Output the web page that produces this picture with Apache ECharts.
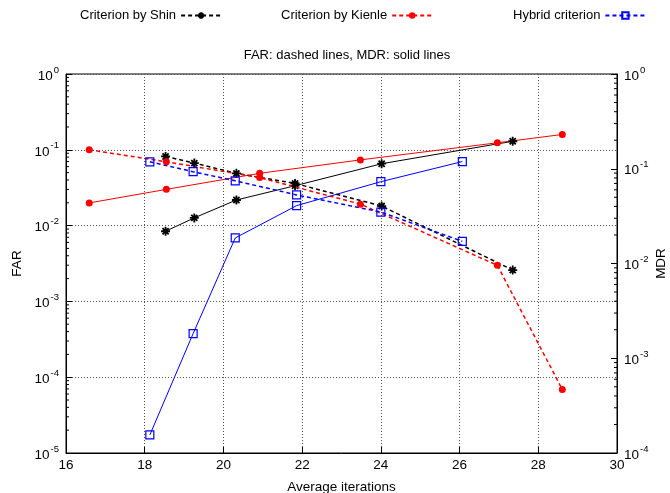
<!DOCTYPE html>
<html>
<head>
<meta charset="utf-8">
<script src="https://cdn.jsdelivr.net/npm/echarts@6/dist/echarts.min.js"></script>
<style>
html,body{margin:0;padding:0;background:#fff;}
#chart{width:670px;height:493px;}
</style>
</head>
<body>
<div id="chart"></div>
<script>
// ---- data ----
const xTicks = [16, 18, 20, 22, 24, 26, 28, 30];
const farExponents = [-5, -4, -3, -2, -1, 0];
const mdrExponents = [-4, -3, -2, -1, 0];

const shinX   = [18.53, 19.26, 20.33, 21.82, 24.02, 27.35];
const shinFAR = [0.0817, 0.0668, 0.0489, 0.0360, 0.0181, 0.00259];
const shinMDR = [0.0219, 0.0303, 0.0468, 0.0662, 0.113, 0.195];

const kienleX   = [16.59, 18.55, 20.92, 23.48, 26.96, 28.61];
const kienleFAR = [0.100, 0.0695, 0.0430, 0.0192, 0.00299, 0.000069];
const kienleMDR = [0.0436, 0.0606, 0.0895, 0.124, 0.188, 0.230];

const hybridX   = [18.13, 19.23, 20.30, 21.86, 24.00, 26.07];
const hybridFAR = [0.0695, 0.0514, 0.0390, 0.0254, 0.0151, 0.0062];
const hybridMDR = [0.000155, 0.00182, 0.0186, 0.0408, 0.073, 0.119];

const names = ['Criterion by Shin', 'Criterion by Kienle', 'Hybrid criterion'];
const subtitle = 'FAR: dashed lines, MDR: solid lines';

// ---- helpers ----
const zip = (xs, ys) => xs.map((x, i) => [x, ys[i]]);
const FONT = '"Liberation Sans", Arial, Helvetica, sans-serif';
const supFmt = v => '{b|10}{s|' + Math.round(Math.log10(v)) + '}';
const richSup = {
  b: {fontSize: 13.5, fontFamily: FONT, color: '#000', lineHeight: 18, verticalAlign: 'bottom'},
  s: {fontSize: 9.5, fontFamily: FONT, color: '#000', lineHeight: 18, verticalAlign: 'top', padding: [0, 0, 0, 1]}
};
const xMin = xTicks[0], xMax = xTicks[xTicks.length - 1];

function minorValues(exps) {
  const out = [];
  for (let i = 0; i < exps.length - 1; i++) {
    for (let m = 2; m <= 9; m++) out.push(m * Math.pow(10, exps[i]));
  }
  return out;
}
function tickSeries(yIdx, xAt, dir, len) {
  return {
    type: 'custom', yAxisIndex: yIdx, silent: true, z: 5,
    data: minorValues(yIdx === 0 ? farExponents : mdrExponents).map(v => [xAt, v]),
    renderItem: (params, api) => {
      const p = api.coord([api.value(0), api.value(1)]);
      return {type: 'line', shape: {x1: p[0], y1: p[1], x2: p[0] + dir * len, y2: p[1]},
              style: {stroke: '#000', lineWidth: 1}};
    }
  };
}

const starPath = 'path://M5,0L5,10M0,5L10,5M1.6,1.6L8.4,8.4M8.4,1.6L1.6,8.4';
const dashed = [4, 3];

const styles = {
  shin:   {color: '#000', symbol: starPath, size: 9, item: {color: '#000', borderColor: '#000', borderWidth: 1.8}},
  kienle: {color: '#ff0000', symbol: 'circle', size: 7, item: {color: '#ff0000'}},
  hybrid: {color: '#0000ff', symbol: 'rect', size: 8, item: {color: 'rgba(255,255,255,0)', borderColor: '#0000ff', borderWidth: 1.2}}
};

function lineSeries(name, st, data, yIdx, isDashed) {
  return {
    name: name, type: 'line', yAxisIndex: yIdx, data: data,
    symbol: st.symbol, symbolSize: st.size, showAllSymbol: true,
    lineStyle: {color: st.color, width: isDashed ? 1.5 : 1, type: isDashed ? dashed : 'solid'},
    itemStyle: st.item, z: isDashed ? 3 : 2
  };
}

const legendBase = {
  top: 9, padding: 0, align: 'right', itemWidth: 40, itemHeight: 8, itemGap: 6,
  textStyle: {fontSize: 13, fontFamily: FONT, color: '#000'},
  selectedMode: false
};

const option = {
  animation: false,
  backgroundColor: '#fff',
  title: {
    text: subtitle, left: 342, top: 44, textAlign: 'center',
    textStyle: {fontSize: 13, fontWeight: 'normal', fontFamily: FONT, color: '#000'}
  },
  legend: [
    Object.assign({}, legendBase, {data: [names[0]], left: 80}),
    Object.assign({}, legendBase, {data: [names[1]], left: 281}),
    Object.assign({}, legendBase, {data: [names[2]], left: 513})
  ],
  grid: {left: 66, right: 53, top: 74, bottom: 40, containLabel: false, outerBoundsMode: 'none',
         show: true, borderColor: '#000', borderWidth: 1, backgroundColor: 'transparent'},
  xAxis: {
    type: 'value', min: xMin, max: xMax, interval: 2,
    name: 'Average iterations', nameLocation: 'middle', nameGap: 27,
    nameTextStyle: {fontSize: 13.5, fontFamily: FONT, color: '#000'},
    axisLine: {show: true, lineStyle: {color: '#000', width: 1}},
    axisTick: {show: true, inside: true, length: 6, lineStyle: {color: '#000'}},
    axisLabel: {fontSize: 13.5, fontFamily: FONT, color: '#000', margin: 5},
    splitLine: {show: true, lineStyle: {color: '#555', type: [1, 2], width: 1}}
  },
  yAxis: [
    {
      type: 'log', logBase: 10, min: Math.pow(10, farExponents[0]), max: Math.pow(10, farExponents[farExponents.length - 1]),
      position: 'left',
      name: 'FAR', nameLocation: 'middle', nameGap: 42, nameMoveOverlap: false,
      nameTextStyle: {fontSize: 13.5, fontFamily: FONT, color: '#000'},
      axisLine: {show: true, lineStyle: {color: '#000', width: 1}},
      axisTick: {show: true, inside: true, length: 6, lineStyle: {color: '#000'}},
      axisLabel: {formatter: supFmt, rich: richSup, margin: 7},
      splitLine: {show: true, lineStyle: {color: '#555', type: [1, 2], width: 1}}
    },
    {
      type: 'log', logBase: 10, min: Math.pow(10, mdrExponents[0]), max: Math.pow(10, mdrExponents[mdrExponents.length - 1]),
      position: 'right',
      name: 'MDR', nameLocation: 'middle', nameGap: 37, nameMoveOverlap: false,
      nameTextStyle: {fontSize: 13.5, fontFamily: FONT, color: '#000'},
      axisLine: {show: true, lineStyle: {color: '#000', width: 1}},
      axisTick: {show: true, inside: true, length: 6, lineStyle: {color: '#000'}},
      axisLabel: {formatter: supFmt, rich: richSup, margin: 7},
      splitLine: {show: false}
    }
  ],
  series: [
    lineSeries(names[0], styles.shin, zip(shinX, shinFAR), 0, true),
    lineSeries(names[1], styles.kienle, zip(kienleX, kienleFAR), 0, true),
    lineSeries(names[2], styles.hybrid, zip(hybridX, hybridFAR), 0, true),
    lineSeries(names[0], styles.shin, zip(shinX, shinMDR), 1, false),
    lineSeries(names[1], styles.kienle, zip(kienleX, kienleMDR), 1, false),
    lineSeries(names[2], styles.hybrid, zip(hybridX, hybridMDR), 1, false),
    tickSeries(0, xMin, 1, 3),
    tickSeries(1, xMax, -1, 3)
  ]
};

const chart = echarts.init(document.getElementById('chart'), null, {renderer: 'canvas'});
chart.setOption(option);
</script>
</body>
</html>
